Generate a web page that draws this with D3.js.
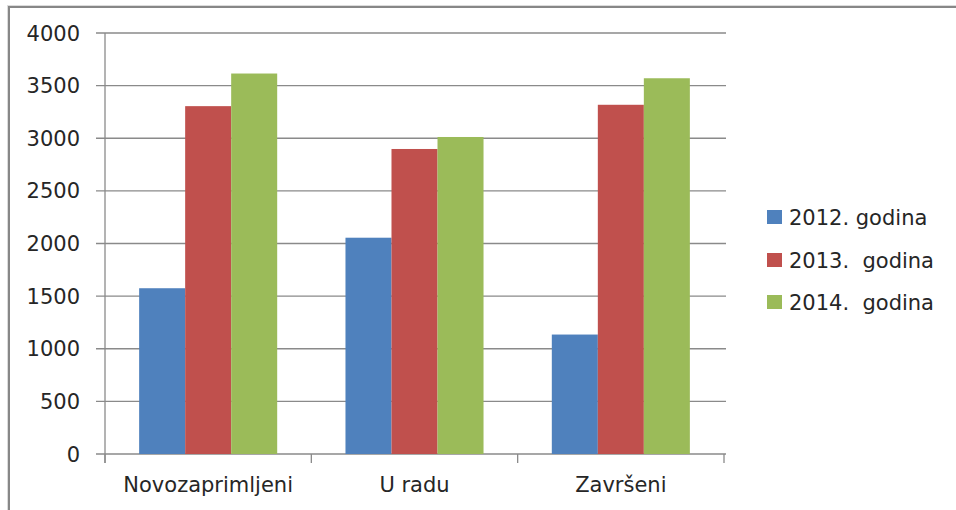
<!DOCTYPE html>
<html>
<head>
<meta charset="utf-8">
<script src="https://cdn.jsdelivr.net/npm/d3@7"></script>
<style>
  body { margin: 0; background: #fff; }
  text { font-family: "DejaVu Sans", sans-serif; fill: #262626; }
</style>
</head>
<body>
<script>
var categories = ["Novozaprimljeni", "U radu", "Završeni"];
var seriesNames = ["2012. godina", "2013.  godina", "2014.  godina"];
var seriesColors = ["#4f81bd", "#c0504d", "#9bbb59"];
var values2012 = [1575, 2055, 1135];
var values2013 = [3305, 2898, 3318];
var values2014 = [3615, 3012, 3570];
var yTicks = [0, 500, 1000, 1500, 2000, 2500, 3000, 3500, 4000];

var svg_width = 956, svg_height = 510;
var plot = { left: 105, right: 724, top: 33, bottom: 454 };

var svg = d3.select("body").append("svg")
            .attr("width", svg_width)
            .attr("height", svg_height);

// Outer frame (cut off at right and bottom)
svg.append("rect").attr("x", 9).attr("y", 7)
                  .attr("width", 1000).attr("height", 1000)
                  .style("fill", "none").style("stroke", "#dcdcdc").style("stroke-width", 4);
svg.append("rect").attr("x", 9).attr("y", 7)
                  .attr("width", 1000).attr("height", 1000)
                  .style("fill", "white").style("stroke", "#878787").style("stroke-width", 2);

var xScale = d3.scaleBand()
               .domain(categories)
               .range([plot.left, plot.right])
               .paddingInner(0)
               .paddingOuter(0);

// bars of ~46px, centred in each band
var inner = d3.scaleBand()
              .domain(d3.range(seriesNames.length))
              .range([0, xScale.bandwidth()])
              .paddingInner(0)
              .paddingOuter(0.742);

var yScale = d3.scaleLinear()
               .domain([0, 4000])
               .range([plot.bottom, plot.top]);

// Gridlines
svg.append("g").selectAll("line")
   .data(yTicks).enter().append("line")
   .attr("x1", plot.left - 9).attr("x2", plot.right + 2)
   .attr("y1", function(d) { return yScale(d); })
   .attr("y2", function(d) { return yScale(d); })
   .style("stroke", "#8a8a8a").style("stroke-width", 1.3);

// Y tick labels
svg.append("g").selectAll("text")
   .data(yTicks).enter().append("text")
   .attr("x", 80)
   .attr("y", function(d) { return yScale(d); })
   .attr("dy", "0.36em")
   .attr("text-anchor", "end")
   .style("font-size", "21px")
   .text(function(d) { return d; });

// Bars
var allSeries = [values2012, values2013, values2014];
allSeries.forEach(function(vals, si)
{
  svg.append("g").selectAll("rect")
     .data(vals).enter().append("rect")
     .attr("x", function(d, i) { return xScale(categories[i]) + inner(si); })
     .attr("width", inner.bandwidth())
     .attr("y", function(d) { return yScale(d); })
     .attr("height", function(d) { return yScale(0) - yScale(d); })
     .style("fill", seriesColors[si]);
});

// Y axis line
svg.append("line").attr("x1", plot.left).attr("x2", plot.left)
                  .attr("y1", plot.top).attr("y2", plot.bottom + 9)
                  .style("stroke", "#8a8a8a").style("stroke-width", 1.3);

// X axis tick marks at band boundaries
var boundaries = categories.map(function(c) { return xScale(c); }).concat([plot.right]);
svg.append("g").selectAll("line")
   .data(boundaries).enter().append("line")
   .attr("x1", function(d) { return d; }).attr("x2", function(d) { return d; })
   .attr("y1", plot.bottom).attr("y2", plot.bottom + 9)
   .style("stroke", "#8a8a8a").style("stroke-width", 1.3);

// Category labels
svg.append("g").selectAll("text")
   .data(categories).enter().append("text")
   .attr("x", function(d) { return xScale(d) + xScale.bandwidth() / 2; })
   .attr("y", 492)
   .attr("text-anchor", "middle")
   .style("font-size", "21px")
   .text(function(d) { return d; });

// Legend
var legend = svg.append("g").attr("transform", "translate(767,0)");
var legendY = [217, 260, 302];
seriesNames.forEach(function(name, i)
{
  legend.append("rect").attr("x", 0).attr("y", legendY[i] - 7)
                       .attr("width", 15).attr("height", 14)
                       .style("fill", seriesColors[i]);
  legend.append("text").attr("x", 22).attr("y", legendY[i])
                       .attr("dy", "0.36em")
                       .style("font-size", "21px")
                       .style("white-space", "pre")
                       .text(name);
});
</script>
</body>
</html>
